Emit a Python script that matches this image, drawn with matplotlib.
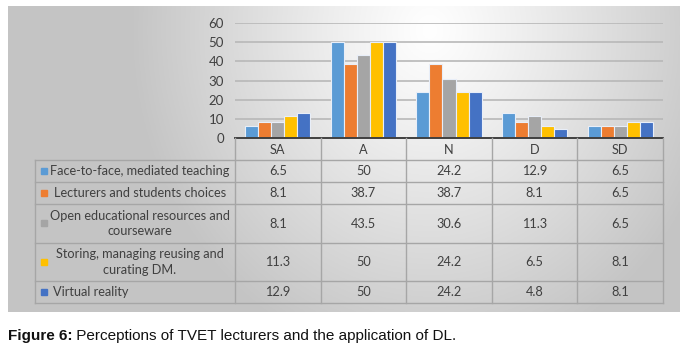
import numpy as np
import matplotlib
matplotlib.use("Agg")
import matplotlib.pyplot as plt

# ---- data ----
categories = ["SA", "A", "N", "D", "SD"]
series_names = [
    "Face-to-face, mediated teaching",
    "Lecturers and students choices",
    "Open educational resources and\ncourseware",
    "Storing, managing reusing and\ncurating DM.",
    "Virtual reality",
]
face_to_face = [6.5, 50, 24.2, 12.9, 6.5]
lect_students = [8.1, 38.7, 38.7, 8.1, 6.5]
open_resources = [8.1, 43.5, 30.6, 11.3, 6.5]
storing_dm = [11.3, 50, 24.2, 6.5, 8.1]
virtual_reality = [12.9, 50, 24.2, 4.8, 8.1]
series_values = [face_to_face, lect_students, open_resources, storing_dm, virtual_reality]
y_ticks = [0, 10, 20, 30, 40, 50, 60]
caption_bold = "Figure 6:"
caption_rest = " Perceptions of TVET lecturers and the application of DL."

colors = ["#5B9BD5", "#ED7D31", "#A5A5A5", "#FFC000", "#4472C4"]

W, H = 686, 348
fig = plt.figure(figsize=(W / 100, H / 100), dpi=100)
fig.patch.set_facecolor("white")

def fx(x):
    return x / W

def fy(y):
    return 1 - y / H

# ---- background panel with gradient ----
px0, px1, py0, py1 = 8, 680, 6, 312
bg = fig.add_axes([fx(px0), fy(py1), (px1 - px0) / W, (py1 - py0) / H], zorder=0)
gx = np.linspace(px0, px1, 400)
gy = np.linspace(py0, py1, 200)
GX, GY = np.meshgrid(gx, gy)
t = np.clip(np.sqrt(((GX - 430) / 300.0) ** 2 + ((GY - 30) / 340.0) ** 2), 0, 1)
val = 1.0 - 0.23 * t ** 1.1
img = np.dstack([val, val, val])
bg.imshow(img, aspect="auto", extent=(0, 1, 0, 1), origin="upper")
bg.set_axis_off()

# ---- bar chart ----
L, R, T, B = 235, 663, 23, 138
ax = fig.add_axes([fx(L), fy(B), (R - L) / W, (B - T) / H], zorder=2)
ax.set_facecolor("none")
x = np.arange(len(categories))
bw = 0.152
for i, (vals, c) in enumerate(zip(series_values, colors)):
    ax.bar(x + (i - 2) * bw, vals, width=bw, color=c, edgecolor="#e8eef8",
           linewidth=0.8, zorder=3)
ax.set_xlim(-0.5, len(categories) - 0.5)
ax.set_ylim(0, 60)
ax.set_yticks(y_ticks)
ax.set_yticklabels([str(v) for v in y_ticks])
ax.set_xticks([])
for s in ax.spines.values():
    s.set_visible(False)
ax.tick_params(axis="y", length=0, pad=8, labelsize=9.5, labelcolor="#404040")
for lab in ax.get_yticklabels():
    lab.set_fontfamily("Lato")
for v in y_ticks[1:]:
    ax.axhline(v, color="#b8b8b8", lw=1.2, zorder=1)
ax.axhline(0, color="#404040", lw=1.4, zorder=4, clip_on=False)

# ---- data table ----
tb = fig.add_axes([0, 0, 1, 1], zorder=3)
tb.set_xlim(0, W)
tb.set_ylim(H, 0)
tb.set_axis_off()
tb.patch.set_alpha(0)

col_edges = np.linspace(L, R, len(categories) + 1)
row_edges = [160, 182, 204, 243, 281, 303]
left_edge = 35
lc = "#a6a6a6"
for y in row_edges:
    tb.plot([left_edge, R], [y, y], color=lc, lw=1.0)
tb.plot([left_edge, left_edge], [row_edges[0], row_edges[-1]], color=lc, lw=1.0)
for xe in col_edges:
    tb.plot([xe, xe], [B, row_edges[-1]], color=lc, lw=1.0)

txt_kw = dict(fontfamily="Lato", fontsize=9.2, color="#404040")
for j, cat in enumerate(categories):
    xc = (col_edges[j] + col_edges[j + 1]) / 2
    tb.text(xc, (B + row_edges[0]) / 2 + 0.5, cat, ha="center", va="center", **txt_kw)

label_align = ["center", "center", "center", "center", "left"]
for i, (name, vals) in enumerate(zip(series_names, series_values)):
    yc = (row_edges[i] + row_edges[i + 1]) / 2
    # legend key
    tb.add_patch(plt.Rectangle((41, yc - 3.2), 6, 6, color=colors[i], zorder=5))
    if label_align[i] == "center":
        tb.text(140, yc, name, ha="center", va="center", multialignment="center",
                linespacing=1.3, **txt_kw)
    else:
        tb.text(53, yc, name, ha="left", va="center", **txt_kw)
    for j, v in enumerate(vals):
        xc = (col_edges[j] + col_edges[j + 1]) / 2
        tb.text(xc, yc, f"{v:g}", ha="center", va="center", **txt_kw)

# ---- caption ----
cap = tb.text(8, 336, caption_bold, ha="left", va="center", fontfamily="Liberation Sans",
              fontweight="bold", fontsize=11, color="#111111")
tb.annotate(caption_rest, xy=(1, 0.5), xycoords=cap, ha="left", va="center",
            fontfamily="Liberation Sans", fontsize=11, color="#111111")

fig.savefig("out.png", dpi=100)
